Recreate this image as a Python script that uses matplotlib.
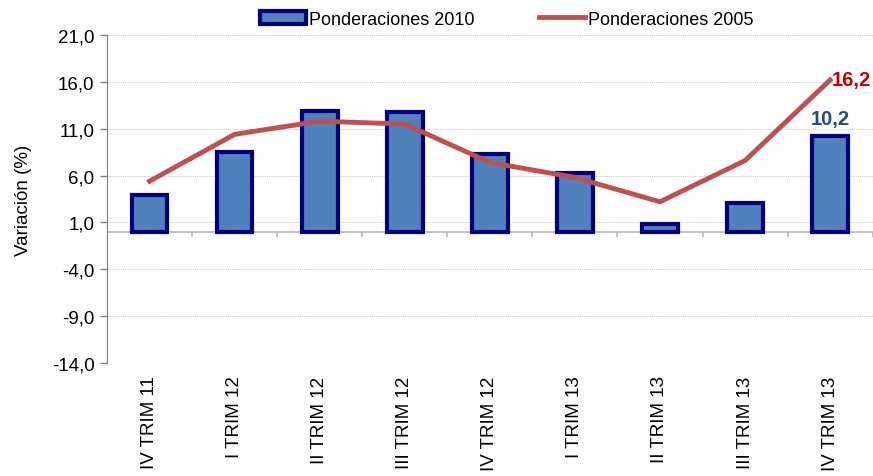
import numpy as np
import matplotlib
matplotlib.use("Agg")
import matplotlib.pyplot as plt

plt.rcParams['font.family'] = ['Liberation Sans', 'DejaVu Sans']

labels = ["IV TRIM 11", "I TRIM 12", "II TRIM 12", "III TRIM 12", "IV TRIM 12",
          "I TRIM 13", "II TRIM 13", "III TRIM 13", "IV TRIM 13"]
pond2010 = [3.9, 8.5, 12.9, 12.8, 8.3, 6.3, 0.8, 3.1, 10.2]
pond2005 = [5.4, 10.4, 11.8, 11.5, 7.4, 5.8, 3.2, 7.6, 16.2]

xs = np.arange(len(labels))

fig = plt.figure(figsize=(8.73, 4.77), dpi=100)
ax = fig.add_axes([0.1226, 0.237, 0.877, 0.6875])

# grid
yt = np.arange(-14, 22, 5)
for y in yt:
    ax.axhline(y, color="#c8c8c8", ls=(0, (1, 1)), lw=0.7, zorder=0)

bars = ax.bar(xs, pond2010, width=0.42, color="#4F81BD", edgecolor="#000080", lw=3,
              label="Ponderaciones 2010", zorder=3)
line, = ax.plot(xs, pond2005, color="#C0504D", lw=3.5, label="Ponderaciones 2005", zorder=4)

# category axis at 0
ax.axhline(0, color="#b8b8b8", lw=1.2, zorder=2)
ax.vlines(np.arange(len(labels) + 1) - 0.5, -0.6, 0, color="#b8b8b8", lw=1.2, zorder=2)

ax.text(xs[-1], pond2010[-1] + 0.9, "10,2", color="#1F4E79", fontsize=14.5,
        fontweight="bold", ha="center", va="bottom")
ax.text(xs[-1] + 0.02, pond2005[-1], "16,2", color="#C00000", fontsize=14.5,
        fontweight="bold", ha="left", va="center")

ax.set_xlim(-0.5, len(labels) - 0.5)
ax.set_ylim(-14, 21)
ax.set_yticks(yt)
ax.set_yticklabels([f"{v:.1f}".replace(".", ",") for v in yt], fontsize=13.5)
ax.set_xticks(xs)
ax.set_xticklabels(labels, rotation=90, fontsize=13.5, va="top")
ax.tick_params(axis="x", length=0, pad=9)
ax.tick_params(axis="y", length=5, color="#808080", width=1, pad=4)
ax.set_ylabel("Variación (%)", fontsize=13.5, labelpad=14)

for s in ["top", "right", "bottom"]:
    ax.spines[s].set_visible(False)
ax.spines["left"].set_color("#808080")

ax.legend([bars, line], ["Ponderaciones 2010", "Ponderaciones 2005"],
          loc="lower center", bbox_to_anchor=(0.522, 1.0), ncol=2, frameon=False,
          fontsize=13, handlelength=2.55, handletextpad=0.15, columnspacing=3.6,
          borderaxespad=0)

plt.savefig("out.png", dpi=100)
